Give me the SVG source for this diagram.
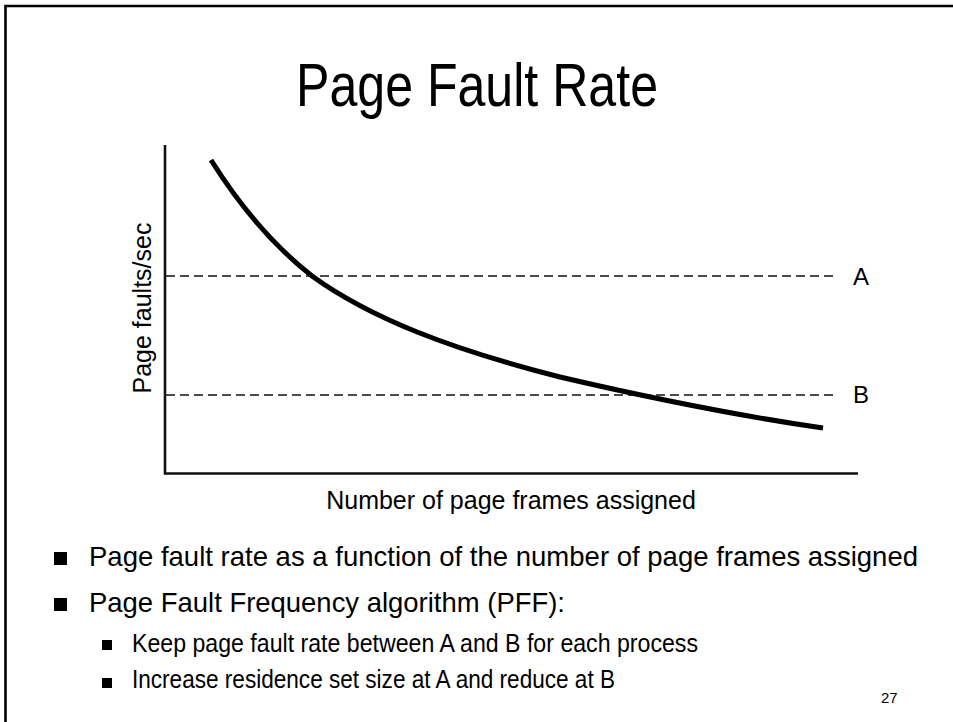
<svg xmlns="http://www.w3.org/2000/svg" width="953" height="722" viewBox="0 0 953 722">
  <style>
    .narrow { font-family: "Liberation Sans Narrow", "Liberation Sans", Arial, sans-serif; fill: #000; }
    .plain { font-family: "Liberation Sans", Arial, sans-serif; fill: #000; }
    .axis { stroke: #111; stroke-width: 2.6; fill: none; }
    .level { stroke: #111; stroke-width: 1.6; stroke-dasharray: 9 5; fill: none; }
    .curve { stroke: #000; stroke-width: 5; fill: none; stroke-linejoin: round; }
    .frame { stroke: #000; stroke-width: 2.6; fill: none; }
  </style>

  <rect width="953" height="722" fill="#fff"/>

  <!-- slide frame (left and top edges) -->
  <path class="frame" d="M5.5,722 V6 H953"/>

  <!-- title -->
  <text id="title" class="narrow" x="296" y="106" font-size="61" textLength="362" lengthAdjust="spacingAndGlyphs">Page Fault Rate</text>

  <!-- chart -->
  <g id="chart">
    <path class="axis" d="M165,145 V473.5 H858"/>
    <line id="level-a" class="level" x1="166" y1="276" x2="838" y2="276"/>
    <line id="level-b" class="level" x1="166" y1="395" x2="838" y2="395"/>
    <path id="fault-curve" class="curve" d="M211,160 C238,203 270,243 312,276 C370,318 450,349 560,377 C650,398 740,416 823,428"/>
    <text class="plain" x="853" y="285" font-size="24">A</text>
    <text class="plain" x="853" y="403" font-size="24">B</text>
    <text class="plain" transform="translate(151,308) rotate(-90)" text-anchor="middle" font-size="25">Page faults/sec</text>
    <text class="plain" x="511" y="509" text-anchor="middle" font-size="25">Number of page frames assigned</text>
  </g>

  <!-- bullet list -->
  <g id="bullets">
    <rect x="54" y="552" width="13" height="13"/>
    <text class="narrow" x="89" y="566" font-size="28" textLength="829" lengthAdjust="spacingAndGlyphs">Page fault rate as a function of the number of page frames assigned</text>
    <rect x="54" y="598" width="13" height="13"/>
    <text class="narrow" x="89" y="612" font-size="28" textLength="476" lengthAdjust="spacingAndGlyphs">Page Fault Frequency algorithm (PFF):</text>
    <rect x="102" y="640" width="10" height="10"/>
    <text class="narrow" x="132" y="652" font-size="26" textLength="566" lengthAdjust="spacingAndGlyphs">Keep page fault rate between A and B for each process</text>
    <rect x="102" y="678" width="10" height="10"/>
    <text class="narrow" x="132" y="688" font-size="26" textLength="483" lengthAdjust="spacingAndGlyphs">Increase residence set size at A and reduce at B</text>
  </g>

  <text id="page-number" class="plain" x="881" y="703" font-size="15">27</text>
</svg>
